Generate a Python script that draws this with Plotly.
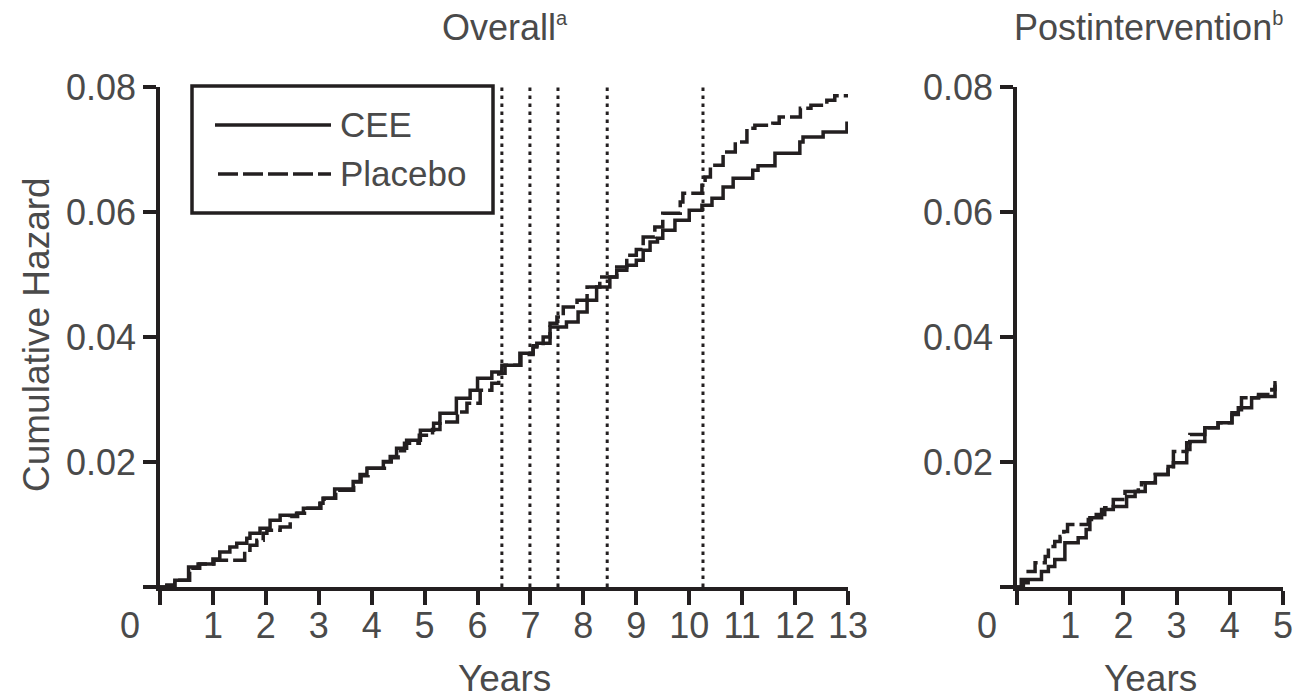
import plotly.graph_objects as go

# ---- Overall period: cumulative hazard step points (years, hazard) ----
overall_years_cee = [0.00, 0.13, 0.28, 0.54, 0.72, 1.00, 1.13, 1.32, 1.45, 1.64, 1.70, 1.89,
                     2.08, 2.27, 2.58, 2.71, 3.02, 3.08, 3.30, 3.65, 3.78, 3.91, 4.22, 4.35,
                     4.47, 4.66, 4.92, 5.17, 5.29, 5.60, 5.86, 6.00, 6.27, 6.46, 6.80, 7.05,
                     7.12, 7.37, 7.68, 7.90, 8.07, 8.25, 8.50, 8.63, 8.82, 9.00, 9.13, 9.26,
                     9.40, 9.50, 9.73, 10.00, 10.24, 10.43, 10.64, 10.83, 11.20, 11.30, 11.62,
                     12.09, 12.15, 12.53, 12.98, 13.00]
overall_hazard_cee = [0.0000, 0.0003, 0.0011, 0.0032, 0.0037, 0.0045, 0.0056, 0.0064, 0.0070,
                      0.0078, 0.0086, 0.0094, 0.0107, 0.0115, 0.0118, 0.0126, 0.0134, 0.0142,
                      0.0157, 0.0169, 0.0180, 0.0190, 0.0201, 0.0209, 0.0222, 0.0235, 0.0251,
                      0.0262, 0.0278, 0.0302, 0.0315, 0.0334, 0.0344, 0.0355, 0.0374, 0.0384,
                      0.0390, 0.0416, 0.0424, 0.0440, 0.0459, 0.0480, 0.0496, 0.0507, 0.0515,
                      0.0523, 0.0539, 0.0552, 0.0558, 0.0571, 0.0587, 0.0603, 0.0611, 0.0622,
                      0.0640, 0.0654, 0.0667, 0.0674, 0.0694, 0.0712, 0.0720, 0.0728, 0.0742,
                      0.0742]

overall_years_placebo = [0.00, 0.13, 0.28, 0.56, 0.75, 1.02, 1.60, 1.70, 1.83, 1.95, 2.02, 2.27,
                         2.46, 2.60, 2.73, 3.04, 3.10, 3.32, 3.66, 3.80, 3.93, 4.24, 4.37, 4.50,
                         4.62, 4.90, 5.15, 5.29, 5.62, 5.80, 6.05, 6.27, 6.40, 6.52, 6.82, 7.05,
                         7.24, 7.37, 7.50, 7.62, 7.88, 8.07, 8.31, 8.63, 8.82, 9.00, 9.13, 9.35,
                         9.50, 9.83, 9.88, 10.24, 10.30, 10.40, 10.64, 10.87, 11.09, 11.24, 11.58,
                         11.70, 12.10, 12.30, 12.60, 12.75, 13.00]
overall_hazard_placebo = [0.0000, 0.0003, 0.0011, 0.0030, 0.0037, 0.0043, 0.0059, 0.0067, 0.0075,
                          0.0086, 0.0091, 0.0096, 0.0113, 0.0118, 0.0126, 0.0134, 0.0142, 0.0155,
                          0.0168, 0.0178, 0.0190, 0.0200, 0.0207, 0.0218, 0.0230, 0.0243, 0.0252,
                          0.0264, 0.0280, 0.0294, 0.0315, 0.0326, 0.0342, 0.0355, 0.0372, 0.0386,
                          0.0400, 0.0422, 0.0432, 0.0448, 0.0459, 0.0480, 0.0496, 0.0512, 0.0531,
                          0.0540, 0.0560, 0.0576, 0.0598, 0.0616, 0.0630, 0.0643, 0.0656, 0.0675,
                          0.0696, 0.0712, 0.0734, 0.0739, 0.0742, 0.0752, 0.0766, 0.0771, 0.0779,
                          0.0786, 0.0786]

# ---- Postintervention period ----
post_years_cee = [0.00, 0.08, 0.46, 0.59, 0.71, 0.90, 1.15, 1.30, 1.37, 1.59, 1.81, 2.06, 2.22,
                  2.41, 2.60, 2.84, 2.94, 3.19, 3.25, 3.53, 3.78, 4.04, 4.16, 4.41, 4.54, 4.85,
                  4.88]
post_hazard_cee = [0.0000, 0.0012, 0.0025, 0.0033, 0.0044, 0.0071, 0.0079, 0.0092, 0.0111,
                   0.0124, 0.0129, 0.0145, 0.0153, 0.0167, 0.0180, 0.0193, 0.0199, 0.0220,
                   0.0233, 0.0255, 0.0263, 0.0276, 0.0287, 0.0303, 0.0305, 0.0321, 0.0321]

post_years_placebo = [0.00, 0.12, 0.21, 0.34, 0.53, 0.59, 0.71, 0.81, 0.88, 0.95, 1.34, 1.40,
                      1.65, 1.81, 2.03, 2.28, 2.34, 2.60, 2.84, 2.94, 3.19, 3.25, 3.53, 3.78,
                      4.04, 4.22, 4.54, 4.79, 4.85, 4.88]
post_hazard_placebo = [0.0000, 0.0007, 0.0025, 0.0039, 0.0049, 0.0065, 0.0073, 0.0081, 0.0089,
                       0.0100, 0.0108, 0.0116, 0.0127, 0.0140, 0.0153, 0.0159, 0.0167, 0.0180,
                       0.0188, 0.0217, 0.0231, 0.0244, 0.0255, 0.0263, 0.0279, 0.0303, 0.0308,
                       0.0316, 0.0327, 0.0327]

# Times marking the vertical reference lines in the overall panel
cutoff_years = [6.46, 6.99, 7.52, 8.45, 10.26]

overall_xticks = list(range(0, 14))
post_xticks = list(range(0, 6))
hazard_ticks = [0, 0.02, 0.04, 0.06, 0.08]
hazard_ticktext = ["", "0.02", "0.04", "0.06", "0.08"]

series_names = ["CEE", "Placebo"]
panel_titles = ["Overall", "Postintervention"]
panel_marks = ["a", "b"]
x_title = "Years"
y_title = "Cumulative Hazard"

# ---- styling ----
W, H = 1295, 698
INK = "#231f20"
TXT = "#4a4a4a"
FONT = "Liberation Sans, Arial, Helvetica, sans-serif"
LW = 3.5
DASH = "20px,5px"


def px(x):
    return x / W


def py(y):
    return 1 - y / H


fig = go.Figure()

for xs, ys, dash, xa, ya in [
    (overall_years_cee, overall_hazard_cee, "solid", "x", "y"),
    (overall_years_placebo, overall_hazard_placebo, DASH, "x", "y"),
    (post_years_cee, post_hazard_cee, "solid", "x2", "y2"),
    (post_years_placebo, post_hazard_placebo, DASH, "x2", "y2"),
]:
    fig.add_trace(go.Scatter(
        x=xs, y=ys, mode="lines", xaxis=xa, yaxis=ya, showlegend=False,
        line=dict(shape="hv", color=INK, width=LW, dash=dash),
        hoverinfo="skip",
    ))

axis_common = dict(
    showline=True, linecolor=INK, linewidth=LW,
    ticks="outside", tickcolor=INK, tickwidth=LW,
    showgrid=False, zeroline=False, automargin=False,
    tickfont=dict(family=FONT, size=36, color=TXT),
)

ydom = [py(587), py(87)]
fig.update_layout(
    width=W, height=H,
    margin=dict(l=0, r=0, t=0, b=0, autoexpand=False),
    paper_bgcolor="white", plot_bgcolor="white",
    xaxis=dict(domain=[px(160), px(848)], range=[0, 13], anchor="y",
               tickvals=overall_xticks,
               ticktext=[""] + [str(v) for v in overall_xticks[1:]],
               ticklen=14, ticklabelstandoff=-10, **axis_common),
    yaxis=dict(domain=ydom, range=[0, 0.08], anchor="x",
               tickvals=hazard_ticks, ticktext=hazard_ticktext,
               ticklen=13, **axis_common),
    xaxis2=dict(domain=[px(1017), px(1283)], range=[0, 5], anchor="y2",
                tickvals=post_xticks,
                ticktext=[""] + [str(v) for v in post_xticks[1:]],
                ticklen=14, ticklabelstandoff=-10, **axis_common),
    yaxis2=dict(domain=ydom, range=[0, 0.08], anchor="x2",
                tickvals=hazard_ticks, ticktext=hazard_ticktext,
                ticklen=13, **axis_common),
)

# dotted reference lines
for c in cutoff_years:
    fig.add_shape(type="line", xref="x", yref="y", x0=c, x1=c, y0=0, y1=0.08,
                  line=dict(color=INK, width=3, dash="3.5px,4.5px"))

annotations = []
# shared origin "0" labels
for xr, yr in [("x", "y"), ("x2", "y2")]:
    annotations.append(dict(x=0, y=0, xref=xr, yref=yr, text="0", showarrow=False,
                            xanchor="center", yanchor="top", xshift=-30, yshift=-16,
                            font=dict(family=FONT, size=36, color=TXT)))

# panel titles with small superscript marks
for title, mark, xc in zip(panel_titles, panel_marks, [505, 1148]):
    annotations.append(dict(x=px(xc), y=py(27), xref="paper", yref="paper",
                            text=title + "<sup><span style='font-size:20px'>" + mark + "</span></sup>",
                            showarrow=False, xanchor="center", yanchor="middle",
                            font=dict(family=FONT, size=36, color=TXT)))

# axis titles
for xc in [504, 1150]:
    annotations.append(dict(x=px(xc), y=py(678), xref="paper", yref="paper", text=x_title,
                            showarrow=False, xanchor="center", yanchor="middle",
                            font=dict(family=FONT, size=37, color=TXT)))
annotations.append(dict(x=px(36), y=py(335), xref="paper", yref="paper", text=y_title,
                        showarrow=False, textangle=-90, xanchor="center", yanchor="middle",
                        font=dict(family=FONT, size=37, color=TXT)))

# legend box
fig.add_shape(type="rect", xref="paper", yref="paper",
              x0=px(192), x1=px(493), y0=py(213), y1=py(86),
              line=dict(color=INK, width=LW), fillcolor="rgba(0,0,0,0)")
for name, yc, dash, xs in [(series_names[0], 125, "solid", 215), (series_names[1], 174, DASH, 218)]:
    fig.add_shape(type="line", xref="paper", yref="paper",
                  x0=px(xs), x1=px(331), y0=py(yc), y1=py(yc),
                  line=dict(color=INK, width=LW, dash=dash))
    annotations.append(dict(x=px(338), y=py(yc), xref="paper", yref="paper", text=name,
                            showarrow=False, xanchor="left", yanchor="middle",
                            font=dict(family=FONT, size=35, color=TXT)))

fig.update_layout(annotations=annotations)

fig.write_html("out.html")
